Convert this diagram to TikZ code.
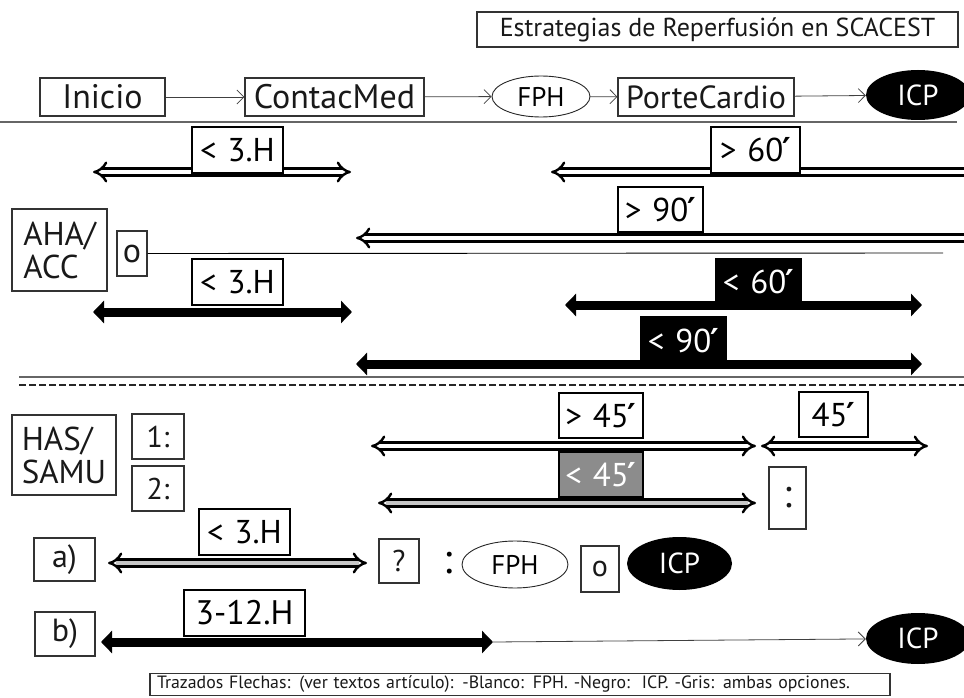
\documentclass[tikz,border=0pt]{standalone}
\usepackage{fontspec}
\setmainfont{PT Sans}
\newfontfamily\primefont{DejaVu Sans}
\newcommand\pr{{\primefont\bfseries\kern-0.03em′}}
\newcommand\gap{\hspace{0.33em}}
\usetikzlibrary{arrows.meta,shapes.geometric}
\tikzset{bhead/.tip={Triangle[length=11pt,width=22pt]}}
\begin{document}
\begin{tikzpicture}[x=1pt,y=-1pt,
  box/.style={draw=black!80, line width=1.1pt, inner sep=0pt, text=black!90, font=\fontsize{34}{36}\selectfont},
  lbl/.style={draw=black, line width=2.2pt, fill=white, inner sep=0pt, minimum width=91pt, minimum height=46pt, font=\fontsize{33}{35}\selectfont},
  blbl/.style={lbl, fill=black, text=white},
  glbl/.style={lbl, fill=black!45, text=white},
  oval/.style={ellipse, draw=black!85, line width=0.9pt, inner sep=0pt, font=\fontsize{27}{29}\selectfont},
  boval/.style={ellipse, fill=black, text=white, inner sep=0pt, font=\fontsize{29}{31}\selectfont},
  thinarr/.style={draw=black!75, line width=0.8pt, -{Straight Barb[length=7pt,width=14pt]}},
  warr/.style={draw=black, line width=2.4pt, double=white, double distance=4.6pt},
  garr/.style={warr, double=black!22},
  barr/.style={draw=black, line width=9pt},
  sep/.style={draw=black!60, line width=1.3pt}
]
\useasboundingbox (0,0) rectangle (964,698);

% title
\node[box, minimum width=481pt, minimum height=35pt, font=\fontsize{26}{28}\selectfont] (title) at (717.5,29.5) {Estrategias de Reperfusión en SCACEST};

% row 1
\node[box, minimum width=125pt, minimum height=38pt] (inicio) at (102.5,97) {Inicio};
\node[box, minimum width=179pt, minimum height=38pt] (contac) at (334.5,97) {ContacMed};
\node[oval, minimum width=98pt, minimum height=41pt] (fph1) at (541,96.5) {FPH};
\node[box, minimum width=176pt, minimum height=38pt, font=\fontsize{32}{34}\selectfont] (porte) at (706,97) {PorteCardio};
\node[boval, minimum width=104pt, minimum height=50pt] (icp1) at (918,95) {ICP};
\draw[thinarr] (inicio) -- (contac);
\draw[thinarr] (contac) -- (fph1);
\draw[thinarr] (fph1) -- (porte);
\draw[thinarr] (porte) -- (icp1);
\coordinate (s1a) at (0,122); \coordinate (s1b) at (957,122);
\draw[sep] (s1a) -- (s1b);

% AHA/ACC
\coordinate (w1a) at (93,172); \coordinate (w1b) at (351,172);
\draw[warr, {Implies}-{Implies}] (w1a) -- (w1b);
\node[lbl] (l1) at (237.5,150) {<\gap3.H};

\coordinate (w2a) at (551,172); \coordinate (w2b) at (975,172);
\draw[warr, {Implies}-] (w2a) -- (w2b);
\node[lbl, minimum width=89pt] (l2) at (755.5,150) {>\gap60\pr};

\coordinate (w3a) at (356,238); \coordinate (w3b) at (975,238);
\draw[warr, {Implies}-] (w3a) -- (w3b);
\node[lbl, minimum width=85pt, minimum height=45pt] (l3) at (660.5,209.5) {>\gap90\pr};

\node[box, minimum width=95pt, minimum height=82pt, align=left, font=\fontsize{33}{33}\selectfont] (aha) at (59.5,250) {AHA/\\ACC};
\node[box, minimum width=30pt, minimum height=45pt] (o1) at (132,253.5) {o};
\coordinate (o1e) at (943,253);
\draw[draw=black, line width=0.9pt] (o1.east) -- (o1e);

\coordinate (b1a) at (93,312); \coordinate (b1b) at (352,312);
\draw[barr, {bhead}-{bhead}] (b1a) -- (b1b);
\node[lbl] (l4) at (237.5,282) {<\gap3.H};

\coordinate (b2a) at (565,305); \coordinate (b2b) at (922,305);
\draw[barr, {bhead}-{bhead}] (b2a) -- (b2b);
\node[blbl, minimum width=85pt] (l5) at (758.5,282) {<\gap60\pr};

\coordinate (b3a) at (356,364); \coordinate (b3b) at (922,364);
\draw[barr, {bhead}-{bhead}] (b3a) -- (b3b);
\node[blbl, minimum width=85pt] (l6) at (683.5,340.5) {<\gap90\pr};

\coordinate (s2a) at (19,377); \coordinate (s2b) at (964,377);
\draw[sep] (s2a) -- (s2b);
\coordinate (s3a) at (19,385); \coordinate (s3b) at (964,385);
\draw[draw=black!85, line width=2.6pt, dash pattern=on 7pt off 3pt] (s3a) -- (s3b);

% HAS/SAMU
\node[box, minimum width=104pt, minimum height=80pt, align=left, font=\fontsize{33}{33}\selectfont] (has) at (64,455) {HAS/\\SAMU};
\node[box, minimum width=52pt, minimum height=45pt, font=\fontsize{30}{32}\selectfont] (n1) at (158,436.5) {1:};
\node[box, minimum width=52pt, minimum height=45pt, font=\fontsize{30}{32}\selectfont] (n2) at (158,488.5) {2:};

\coordinate (w4a) at (371,446); \coordinate (w4b) at (756,446);
\draw[warr, {Implies}-{Implies}] (w4a) -- (w4b);
\node[lbl, minimum width=84pt, minimum height=45pt] (l7) at (601,415.5) {>\gap45\pr};

\coordinate (w5a) at (761,446); \coordinate (w5b) at (928,446);
\draw[warr, {Implies}-{Implies}] (w5a) -- (w5b);
\node[lbl, minimum width=69pt, minimum height=45pt] (l8) at (833.5,414.5) {45\pr};

\coordinate (g1a) at (378,503); \coordinate (g1b) at (756,503);
\draw[garr, {Implies}-{Implies}] (g1a) -- (g1b);
\node[glbl, minimum width=84pt, minimum height=45pt] (l9) at (601,474.5) {<\gap45\pr};

\node[box, minimum width=37pt, minimum height=62pt, font=\fontsize{40}{42}\selectfont] (col1) at (787.5,498) {:};

% a)
\node[box, minimum width=61pt, minimum height=43pt, font=\fontsize{32}{34}\selectfont] (na) at (64.5,559.5) {a)};
\coordinate (g2a) at (108,563); \coordinate (g2b) at (367,563);
\draw[garr, {Implies}-{Implies}] (g2a) -- (g2b);
\node[lbl] (l10) at (244.5,532) {<\gap3.H};
\node[box, minimum width=40pt, minimum height=44pt, font=\fontsize{30}{32}\selectfont] (q) at (399,561) {?};
\node[inner sep=0pt, font=\fontsize{42}{44}\selectfont] (col2) at (448,563) {:};
\node[oval, minimum width=106pt, minimum height=47pt] (fph2) at (515,564.5) {FPH};
\node[box, minimum width=38pt, minimum height=46pt, font=\fontsize{30}{32}\selectfont] (o2) at (600,569) {o};
\node[boval, minimum width=105pt, minimum height=53pt] (icp2) at (679.5,563.5) {ICP};

% b)
\node[box, minimum width=60pt, minimum height=44pt, font=\fontsize{32}{34}\selectfont] (nb) at (65,634) {b)};
\coordinate (b4a) at (101,642); \coordinate (b4b) at (493,642);
\draw[barr, {bhead}-{bhead}] (b4a) -- (b4b);
\node[lbl, minimum width=121pt, font=\fontsize{34}{36}\selectfont] (l11) at (244.5,613) {3-12.H};
\node[boval, minimum width=104pt, minimum height=51pt] (icp3) at (918,638.5) {ICP};
\draw[thinarr] (b4b) -- (icp3);

% caption
\node[box, minimum width=740pt, minimum height=22pt, font=\fontsize{17.8}{19}\selectfont, text width=726pt, align=left] (cap) at (520,684.5) {Trazados Flechas: (ver textos artículo): -Blanco: FPH. -Negro:\ \ ICP. -Gris: ambas opciones.};
\end{tikzpicture}
\end{document}
